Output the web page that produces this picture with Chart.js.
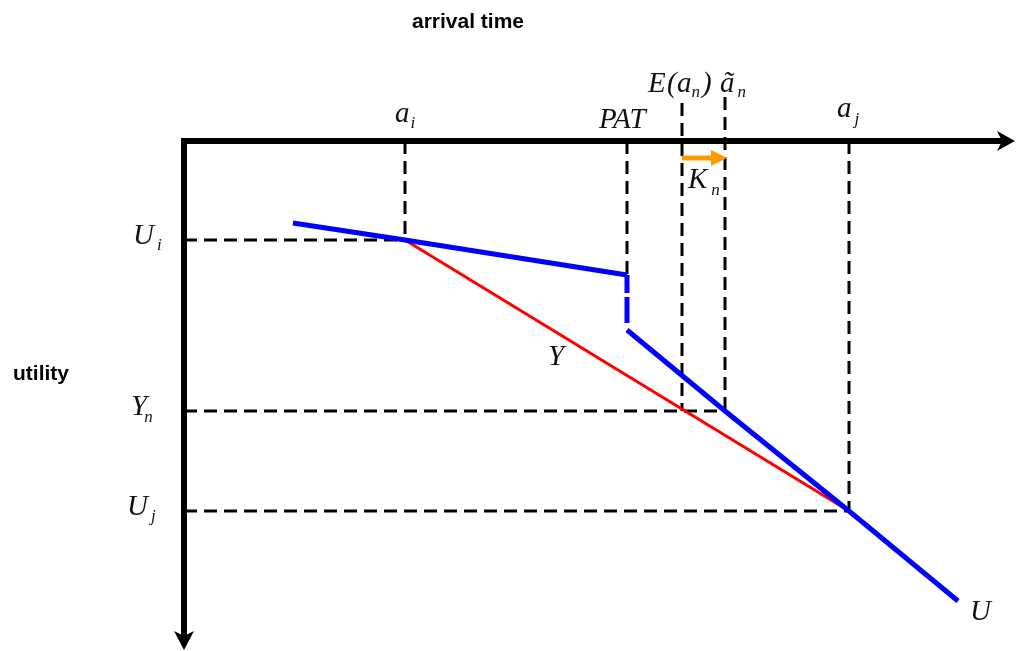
<!DOCTYPE html>
<html>
<head>
<meta charset="utf-8">
<script src="https://cdn.jsdelivr.net/npm/chart.js@4/dist/chart.umd.min.js"></script>
<style>
  html, body { margin: 0; padding: 0; background: #fff; }
  #wrap { width: 1016px; height: 651px; }
</style>
</head>
<body>
<div id="wrap"><canvas id="chart"></canvas></div>
<script>
// arrival times (arbitrary units along the time axis)
const timeKeys = ["start", "a_i", "PAT", "E(a_n)", "a~_n", "a_j", "end"];
const timeValues = [10.9, 22.1, 44.3, 49.8, 54.1, 66.5, 77.4];

// utility levels (higher = nearer the time axis)
const utilityKeys = ["start", "U_i", "PAT high", "PAT low", "Y_n", "U_j", "end"];
const utilityValues = [42.8, 41.1, 37.6, 32.1, 24.0, 14.0, 5.0];

// axis extents
const timeMax = 82.9;
const utilityMax = 51;

const T = k => timeValues[timeKeys.indexOf(k)];
const UT = k => utilityValues[utilityKeys.indexOf(k)];

// utility curve U (blue): early part, jump at PAT, late part
const blueEarlyTimes = [T("start"), T("a_i"), T("PAT")];
const blueEarlyUtils = [UT("start"), UT("U_i"), UT("PAT high")];
const blueJumpTimes = [T("PAT"), T("PAT")];
const blueJumpUtils = [UT("PAT high"), UT("PAT low")];
const blueLateTimes = [T("PAT"), T("a~_n"), T("a_j"), T("end")];
const blueLateUtils = [UT("PAT low"), UT("Y_n"), UT("U_j"), UT("end")];
// straight line Y (red)
const redTimes = [T("a_i"), T("a_j")];
const redUtils = [UT("U_i"), UT("U_j")];

// dashed guides: vertical [time, from utility, to utility], horizontal [utility, to time]
const verticalGuides = [
  [T("a_i"), utilityMax, UT("U_i")],
  [T("PAT"), utilityMax, UT("PAT high")],
  [T("E(a_n)"), 54.8, UT("Y_n")],
  [T("a~_n"), 55.4, UT("Y_n")],
  [T("a_j"), utilityMax, UT("U_j")]
];
const horizontalGuides = [
  [UT("U_i"), T("a_i")],
  [UT("Y_n"), T("a~_n")],
  [UT("U_j"), T("a_j")]
];

// K_n shift arrow from E(a_n) to a~_n
const shiftLevel = 49.3;

const zip = (xs, ys) => xs.map((x, i) => ({ x: x, y: ys[i] }));

const datasets = [];
verticalGuides.forEach(g => {
  datasets.push({
    data: [{ x: g[0], y: g[1] }, { x: g[0], y: g[2] }],
    borderColor: "#000", borderWidth: 3, borderDash: [13, 7], order: 3
  });
});
horizontalGuides.forEach(g => {
  datasets.push({
    data: [{ x: 0, y: g[0] }, { x: g[1], y: g[0] }],
    borderColor: "#000", borderWidth: 3, borderDash: [13, 7], order: 3
  });
});
datasets.push({
  data: zip(redTimes, redUtils),
  borderColor: "#ff0000", borderWidth: 3, order: 2
});
datasets.push({
  data: zip(blueEarlyTimes, blueEarlyUtils),
  borderColor: "#0000ff", borderWidth: 5, order: 1
});
datasets.push({
  data: zip(blueJumpTimes, blueJumpUtils),
  borderColor: "#0000ff", borderWidth: 5, borderDash: [18, 4, 26, 10], order: 1
});
datasets.push({
  data: zip(blueLateTimes, blueLateUtils),
  borderColor: "#0000ff", borderWidth: 5, order: 1
});
datasets.push({
  data: [{ x: T("E(a_n)"), y: shiftLevel }, { x: T("a~_n") - 1.3, y: shiftLevel }],
  borderColor: "#ff9900", borderWidth: 5, order: 0
});
datasets.forEach(d => {
  d.pointRadius = 0;
  d.tension = 0;
  d.fill = false;
  d.clip = false;
  d.borderCapStyle = "butt";
});

const SERIF = "'Liberation Serif', 'DejaVu Serif', serif";

function mathLabel(ctx, x, y, base, sub, subDx, subDy) {
  ctx.font = "italic 29px " + SERIF;
  ctx.textAlign = "left";
  ctx.textBaseline = "alphabetic";
  ctx.fillText(base, x, y);
  const w = ctx.measureText(base).width;
  if (sub) {
    ctx.font = "italic 17px " + SERIF;
    ctx.fillText(sub, x + w + subDx, y + subDy);
  }
}

const diagramPlugin = {
  id: "diagram",
  afterDatasetsDraw(chart) {
    const ctx = chart.ctx;
    const xs = chart.scales.x, ys = chart.scales.y;
    const px = v => xs.getPixelForValue(v);
    const py = v => ys.getPixelForValue(v);
    const ox = px(0), oy = py(utilityMax);
    ctx.save();
    ctx.fillStyle = "#000";
    ctx.strokeStyle = "#000";
    ctx.lineWidth = 6;
    ctx.lineCap = "butt";
    // time axis
    ctx.beginPath();
    ctx.moveTo(ox - 3, oy);
    ctx.lineTo(px(timeMax) - 8, oy);
    ctx.stroke();
    const ax = px(timeMax) + 2;
    ctx.beginPath();
    ctx.moveTo(ax, oy);
    ctx.lineTo(ax - 18, oy - 10);
    ctx.lineTo(ax - 13, oy);
    ctx.lineTo(ax - 18, oy + 10);
    ctx.closePath();
    ctx.fill();
    // utility axis
    ctx.beginPath();
    ctx.moveTo(ox, oy - 3);
    ctx.lineTo(ox, py(0) - 12);
    ctx.stroke();
    const ay = py(0) - 1;
    ctx.beginPath();
    ctx.moveTo(ox, ay);
    ctx.lineTo(ox - 10, ay - 19);
    ctx.lineTo(ox, ay - 14);
    ctx.lineTo(ox + 10, ay - 19);
    ctx.closePath();
    ctx.fill();
    // shift arrowhead
    ctx.fillStyle = "#ff9900";
    const hx = px(T("a~_n")) + 2, hy = py(shiftLevel);
    ctx.beginPath();
    ctx.moveTo(hx, hy);
    ctx.lineTo(hx - 16, hy - 8);
    ctx.lineTo(hx - 16, hy + 8);
    ctx.closePath();
    ctx.fill();

    // titles
    ctx.fillStyle = "#000";
    ctx.font = "bold 21px 'Liberation Sans', Arial, sans-serif";
    ctx.textAlign = "center";
    ctx.fillText("arrival time", 468, 28);
    ctx.fillText("utility", 41, 380);

    // math labels
    ctx.fillStyle = "#111";
    const ex = px(T("E(a_n)"));
    mathLabel(ctx, ex - 34, oy - 49, "E");
    mathLabel(ctx, ex - 15, oy - 49, "(");
    mathLabel(ctx, ex - 5, oy - 49, "a", "n", 0, 5);
    mathLabel(ctx, ex + 20, oy - 49, ")");
    mathLabel(ctx, px(T("a_i")) - 10, oy - 19, "a", "i", 1, 6);
    mathLabel(ctx, px(T("PAT")) - 28, oy - 13, "PAT");
    mathLabel(ctx, px(T("a~_n")) - 5, oy - 49, "ã", "n", 3, 5);
    mathLabel(ctx, px(T("a_j")) - 12, oy - 24, "a", "j", 3, 7);
    mathLabel(ctx, ex + 6, py(shiftLevel) + 30, "K", "n", 4, 7);
    mathLabel(ctx, 133, py(UT("U_i")) + 4, "U", "i", 3, 6);
    mathLabel(ctx, 131, py(UT("Y_n")) + 4, "Y", "n", -3, 7);
    mathLabel(ctx, 127, py(UT("U_j")) + 4, "U", "j", 3, 6);
    mathLabel(ctx, 548, 365, "Y");
    mathLabel(ctx, px(T("end")) + 12, py(UT("end")) + 19, "U");
    ctx.restore();
  }
};

new Chart(document.getElementById("chart").getContext("2d"), {
  type: "line",
  data: { datasets: datasets },
  options: {
    responsive: true,
    maintainAspectRatio: false,
    animation: false,
    layout: { padding: { left: 184, top: 141, right: 1016 - 184 - 829, bottom: 0 } },
    plugins: { legend: { display: false }, tooltip: { enabled: false }, title: { display: false } },
    scales: {
      x: { type: "linear", min: 0, max: timeMax, display: false },
      y: { type: "linear", min: 0, max: utilityMax, display: false }
    }
  },
  plugins: [diagramPlugin]
});
</script>
</body>
</html>
